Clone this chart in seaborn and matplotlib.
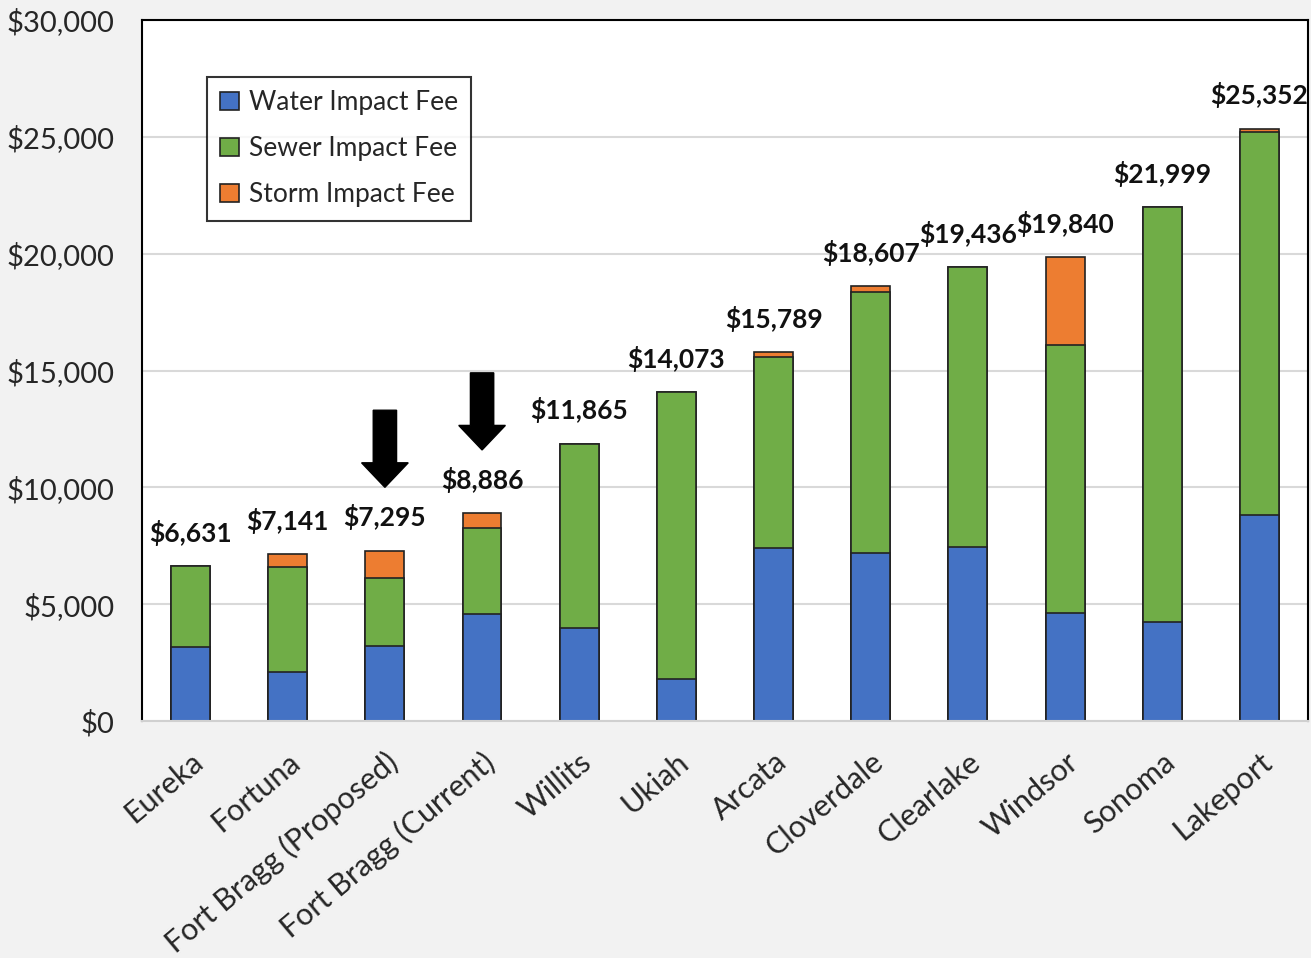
import numpy as np
import pandas as pd
import matplotlib
matplotlib.use('Agg')
import matplotlib.pyplot as plt
import seaborn as sns

# data
cities = ['Eureka', 'Fortuna', 'Fort Bragg (Proposed)', 'Fort Bragg (Current)', 'Willits',
          'Ukiah', 'Arcata', 'Cloverdale', 'Clearlake', 'Windsor', 'Sonoma', 'Lakeport']
totals = [6631, 7141, 7295, 8886, 11865, 14073, 15789, 18607, 19436, 19840, 21999, 25352]
water = [3170, 2100, 3210, 4580, 3980, 1800, 7400, 7190, 7450, 4620, 4240, 8820]
sewer = [3461, 4490, 2910, 3680, 7885, 12273, 8170, 11170, 11986, 11470, 17759, 16400]
storm = [t - w - s for t, w, s in zip(totals, water, sewer)]

df = pd.DataFrame({'city': cities, 'water': water, 'sewer': sewer, 'storm': storm})
df['ws'] = df['water'] + df['sewer']
df['total'] = df['ws'] + df['storm']

c_water = '#4472C4'
c_sewer = '#70AD47'
c_storm = '#ED7D31'

sns.set_theme(style='white')
plt.rcParams['font.family'] = ['Lato', 'DejaVu Sans']

fig = plt.figure(figsize=(13.11, 9.58), dpi=100, facecolor='#f2f2f2')
ax = fig.add_axes([0.1083, 0.2474, 0.8894, 0.7317])
ax.set_facecolor('white')

# stacked bars: draw cumulative totals from the back to the front
kw = dict(width=0.4, edgecolor='#222222', linewidth=1.2, ax=ax, saturation=1)
sns.barplot(data=df, x='city', y='total', color=c_storm, label='Storm Impact Fee', **kw)
sns.barplot(data=df, x='city', y='ws', color=c_sewer, label='Sewer Impact Fee', **kw)
sns.barplot(data=df, x='city', y='water', color=c_water, label='Water Impact Fee', **kw)

ax.set_ylim(0, 30000)
ax.set_xlim(-0.5, len(cities) - 0.5)
ax.set_yticks(np.arange(0, 30001, 5000))
ax.set_yticklabels([f'${v:,.0f}' for v in np.arange(0, 30001, 5000)], fontsize=21, color='#262626')
ax.tick_params(axis='y', length=0, pad=20)
ax.set_axisbelow(True)
ax.yaxis.grid(True, color='#d9d9d9', linewidth=1.5)
ax.set_xlabel('')
ax.set_ylabel('')

ax.set_xticks(range(len(cities)))
ax.set_xticklabels(cities, rotation=40, ha='right', rotation_mode='anchor', fontsize=22, color='#262626')
ax.tick_params(axis='x', length=0, pad=19)

for side in ['left', 'top', 'right']:
    ax.spines[side].set_color('black')
    ax.spines[side].set_linewidth(1.5)
ax.spines['bottom'].set_color('#d0d0d0')
ax.spines['bottom'].set_linewidth(1.5)

# total labels
for i, t in enumerate(totals):
    ax.annotate(f'${t:,}', xy=(i, t), xytext=(0, 24), textcoords='offset points',
                ha='center', va='center', fontsize=19, fontweight='bold', color='#111111')

# arrows pointing to Fort Bragg bars
for i, y0, y1 in [(2, 13300, 10000), (3, 14900, 11600)]:
    ax.arrow(i, y0, 0, y1 - y0, width=0.24, head_width=0.48, head_length=1050,
             length_includes_head=True, color='black')

# legend in Water, Sewer, Storm order
handles, labels = ax.get_legend_handles_labels()
order = ['Water Impact Fee', 'Sewer Impact Fee', 'Storm Impact Fee']
hmap = dict(zip(labels, handles))
leg = ax.legend([hmap[o] for o in order], order, loc='upper left', bbox_to_anchor=(0.0557, 0.9187),
                borderaxespad=0, fontsize=19, frameon=True, fancybox=False, edgecolor='black',
                handlelength=0.7, handleheight=0.7, handletextpad=0.4, labelspacing=0.8,
                borderpad=0.5)
leg.get_frame().set_linewidth(1.5)

fig.savefig('out.png', dpi=100, facecolor=fig.get_facecolor())
